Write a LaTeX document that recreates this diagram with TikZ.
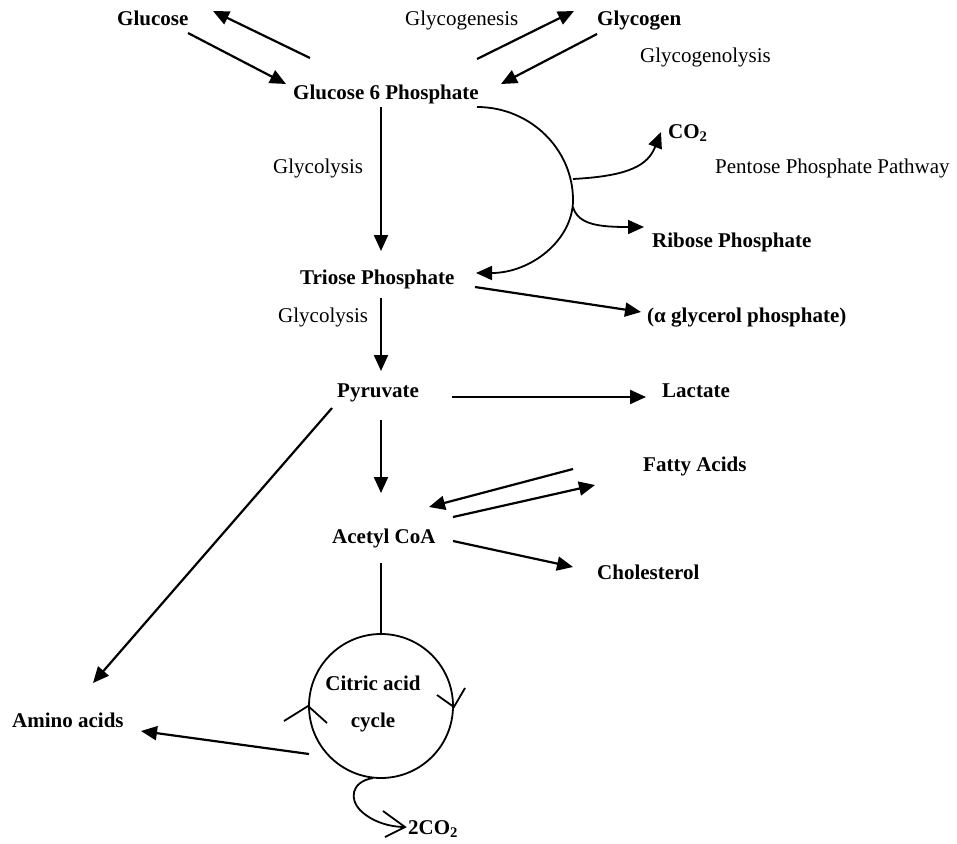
\documentclass[tikz,border=0pt]{standalone}
\usepackage{fontspec}
\setmainfont{Liberation Serif}
\usetikzlibrary{arrows.meta}
\tikzset{
  lbl/.style={inner sep=0pt, anchor=base west, font=\fontsize{21}{25}\selectfont},
  blbl/.style={lbl, font=\fontsize{21}{25}\selectfont\bfseries},
  arr/.style={line width=2.2pt, -{Triangle[length=16pt,width=14pt]}},
  thin/.style={line width=1.8pt},
  thinarr/.style={line width=1.8pt, -{Triangle[length=16pt,width=14pt]}}
}
\begin{document}
\begin{tikzpicture}[x=1pt,y=-1pt]
\useasboundingbox (0,0) rectangle (957,843);
% labels
\node[blbl] (glucose) at (117,26) {Glucose};
\node[lbl] (glycogenesis) at (405,26) {Glycogenesis};
\node[blbl] (glycogen) at (597,26) {Glycogen};
\node[lbl] (glycogenolysis) at (640,63) {Glycogenolysis};
\node[blbl] (g6p) at (293,99) {Glucose 6 Phosphate};
\node[lbl] (glycolysisA) at (273,173) {Glycolysis};
\node[blbl] (co2) at (668,138) {CO\textsubscript{2}};
\node[lbl] (ppp) at (715,173) {Pentose Phosphate Pathway};
\node[blbl] (ribose) at (652,247) {Ribose Phosphate};
\node[blbl] (triose) at (300,284) {Triose Phosphate};
\node[lbl] (glycolysisB) at (278,322) {Glycolysis};
\node[blbl] (alpha) at (647,322) {(α glycerol phosphate)};
\node[blbl] (pyruvate) at (337,397) {Pyruvate};
\node[blbl] (lactate) at (662,397) {Lactate};
\node[blbl] (fatty) at (643,471) {Fatty Acids};
\node[blbl] (acetyl) at (332,543) {Acetyl CoA};
\node[blbl] (chol) at (597,579) {Cholesterol};
\node[blbl] (amino) at (12,727) {Amino acids};
\node[circle, draw, line width=1.8pt, minimum size=144pt, inner sep=0pt] (tca) at (381,706) {};
\node[blbl, anchor=base] (tcaA) at (373,690) {Citric acid};
\node[blbl, anchor=base] (tcaB) at (373,727) {cycle};
\node[blbl] (co2b) at (408,834) {2CO\textsubscript{2}};
% connector end points
\coordinate (a1s) at (310,58);  \coordinate (a1e) at (213,11);
\coordinate (a2s) at (188,33);  \coordinate (a2e) at (286,84);
\coordinate (a3s) at (477,59);  \coordinate (a3e) at (574,11);
\coordinate (a4s) at (597,34);  \coordinate (a4e) at (501,84);
\coordinate (gA) at (381,107);  \coordinate (gB) at (381,251);
\coordinate (cs) at (477,107);  \coordinate (cr) at (573,200); \coordinate (ce) at (476,273);
\coordinate (co2s) at (573,179); \coordinate (co2e) at (661,132);
\coordinate (ribs) at (573,207); \coordinate (ribe) at (644,227);
\coordinate (als) at (475,287); \coordinate (ale) at (641,312);
\coordinate (tpA) at (381,298); \coordinate (tpB) at (381,371);
\coordinate (las) at (452,397); \coordinate (lae) at (646,397);
\coordinate (amS) at (332,408); \coordinate (amE) at (93,683);
\coordinate (pyA) at (381,420); \coordinate (pyB) at (381,493);
\coordinate (f1s) at (573,469); \coordinate (f1e) at (429,507);
\coordinate (f2s) at (453,517); \coordinate (f2e) at (595,485);
\coordinate (chs) at (453,541); \coordinate (che) at (573,567);
\coordinate (acl) at (381,563);
\coordinate (ams) at (309,754); \coordinate (ame) at (141,731);
\coordinate (sqs) at (373,778); \coordinate (sqe) at (405,827);
% arrows
\draw[arr] (a1s) -- (a1e);
\draw[arr] (a2s) -- (a2e);
\draw[arr] (a3s) -- (a3e);
\draw[arr] (a4s) -- (a4e);
\draw[arr] (gA) -- (gB);
\draw[thinarr] (cs) .. controls (530,107) and (573,149) .. (cr)
   .. controls (573,240) and (531,273) .. (ce);
\draw[thinarr] (co2s) .. controls (630,176) and (648,165) .. (co2e);
\draw[thinarr] (ribs) .. controls (578,225) and (600,227) .. (ribe);
\draw[arr] (als) -- (ale);
\draw[arr] (tpA) -- (tpB);
\draw[arr] (las) -- (lae);
\draw[arr] (amS) -- (amE);
\draw[arr] (pyA) -- (pyB);
\draw[arr] (f1s) -- (f1e);
\draw[arr] (f2s) -- (f2e);
\draw[arr] (chs) -- (che);
\draw[thin] (acl) -- (tca.north);
\draw[arr] (ams) -- (ame);
% cycle direction marks
\draw[thin] (284,721) -- (tca.west |- 0,706) -- (327,723);
\draw[thin] (437,695) -- (tca.east |- 0,707) -- (465,688);
% 2CO2 squiggle
\draw[thin] (sqs) .. controls (350,782) and (350,800) .. (360,810)
   .. controls (372,822) and (390,827) .. (sqe);
\draw[thin] (383,811) -- (sqe) -- (385,837);
\end{tikzpicture}
\end{document}
